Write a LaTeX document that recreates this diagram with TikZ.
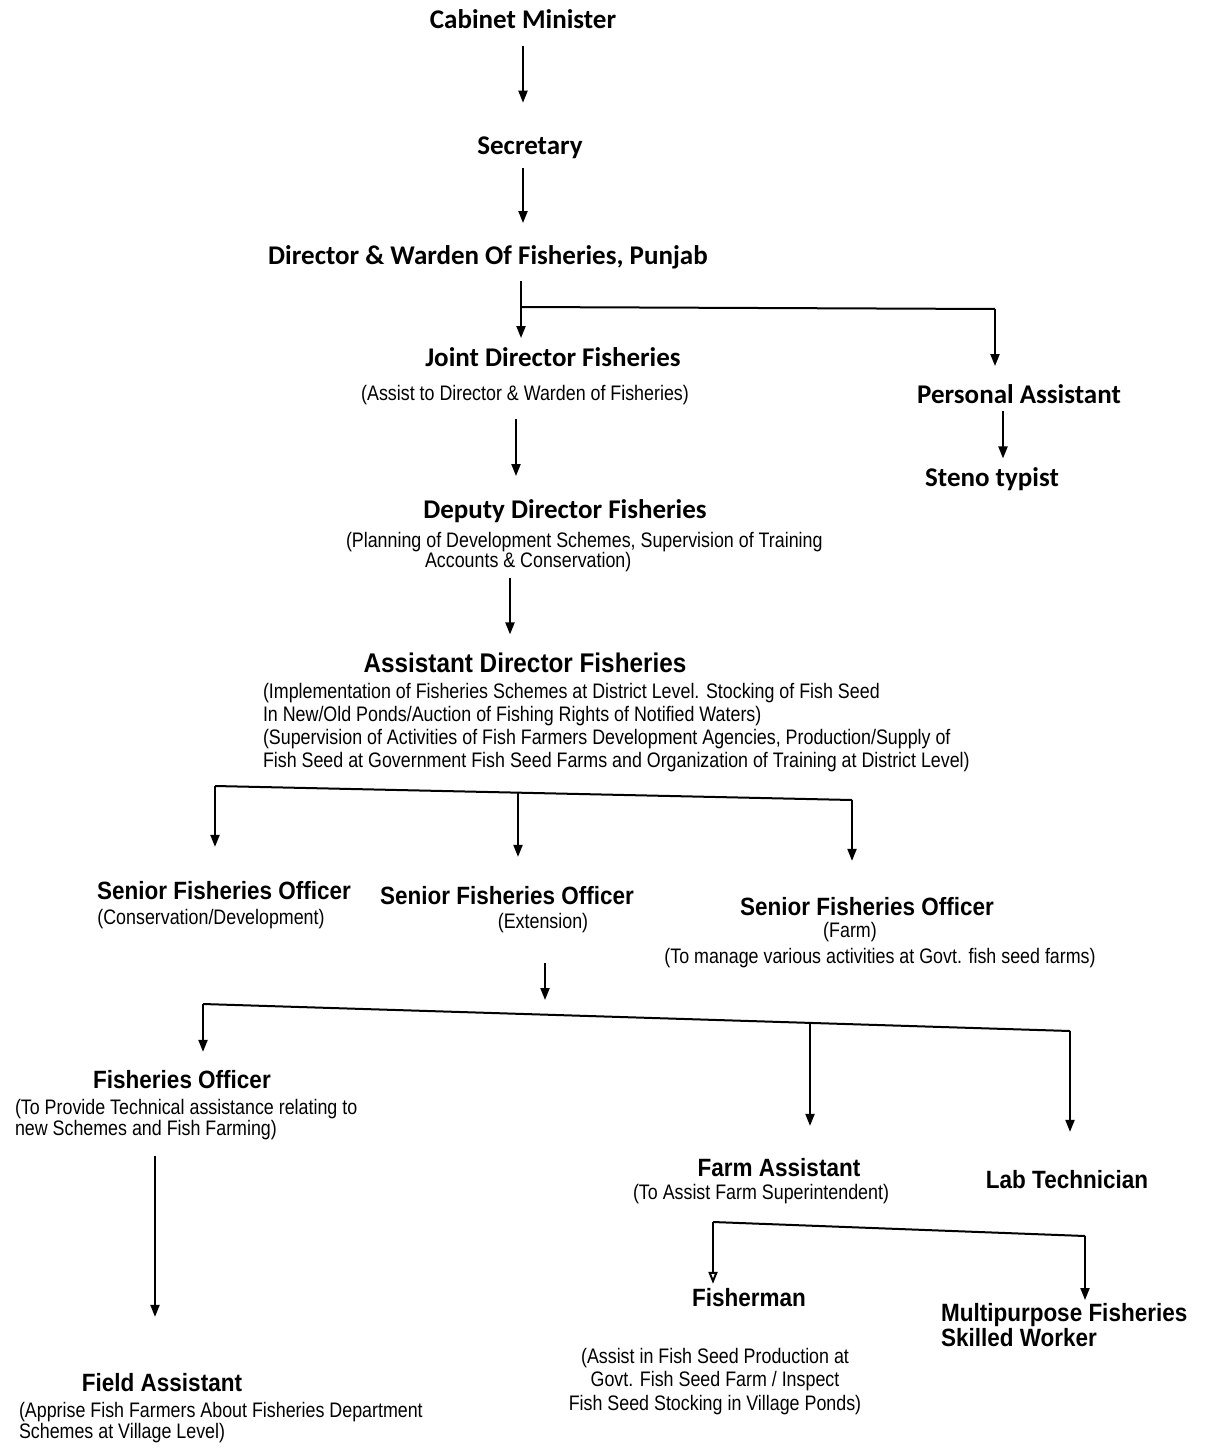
\documentclass[tikz,border=0pt]{standalone}
\usepackage{fontspec}
\usetikzlibrary{arrows.meta}
\newfontfamily\calibfont{Carlito}
\newfontfamily\titlefont[FakeStretch=0.9]{Liberation Sans}
\newfontfamily\descfont[FakeStretch=0.85]{Liberation Sans}

\begin{document}
\begin{tikzpicture}[x=0.5pt,y=-0.5pt,line width=1pt,
    >={Triangle[length=6pt,width=4.5pt]},
    head/.style={font=\calibfont\bfseries\fontsize{13.5}{15}\selectfont,inner sep=0pt,anchor=base},
    post/.style={font=\titlefont\bfseries\fontsize{12.5}{#1}\selectfont,inner sep=0pt,anchor=base},
    post/.default=15,
    desc/.style={font=\descfont\fontsize{10.5}{#1}\selectfont,inner sep=0pt,anchor=base},
    desc/.default=12]
    \useasboundingbox (0,0) rectangle (1207,1455);
    \node[head] (cm) at (523,29) {Cabinet Minister};
    \node[head] (sec) at (530,155) {Secretary};
    \node[head] (dir) at (488,264) {Director \& Warden Of Fisheries, Punjab};
    \node[head] (jdf) at (553,366) {Joint Director Fisheries};
    \node[desc] (jdfsub) at (525,400) {(Assist to Director \& Warden of Fisheries)};
    \node[head] (pa) at (1019,403) {Personal Assistant};
    \node[head] (steno) at (992,486) {Steno typist};
    \node[head] (ddf) at (565,518) {Deputy Director Fisheries};
    \node[desc=10,anchor=north west,align=left] (ddfsub) at (345,531)
        {(Planning of Development Schemes, Supervision of Training\\\hspace*{39.5pt}Accounts \& Conservation)};
    \node[post,font=\titlefont\bfseries\fontsize{13.5}{16}\selectfont] (adf) at (525,672) {Assistant Director Fisheries};
    \node[desc=11.5,anchor=north west,align=left] (adfsub) at (262,682)
        {(Implementation of Fisheries Schemes at District Level. Stocking of Fish Seed\\
         In New/Old Ponds/Auction of Fishing Rights of Notified Waters)\\
         (Supervision of Activities of Fish Farmers Development Agencies, Production/Supply of\\
         Fish Seed at Government Fish Seed Farms and Organization of Training at District Level)};
    \node[post] (sfo1) at (224,899) {Senior Fisheries Officer};
    \node[desc] (sfo1sub) at (211,924) {(Conservation/Development)};
    \node[post] (sfo2) at (507,904) {Senior Fisheries Officer};
    \node[desc] (sfo2sub) at (543,928) {(Extension)};
    \node[post] (sfo3) at (867,915) {Senior Fisheries Officer};
    \node[desc=13,anchor=north,align=center] (sfo3sub) at (880,921)
        {(Farm)\kern30pt\\(To manage various activities at Govt. fish seed farms)};
    \node[post] (fo) at (182,1088) {Fisheries Officer};
    \node[desc=10.5,anchor=north west,align=left] (fosub) at (14,1098)
        {(To Provide Technical assistance relating to\\new Schemes and Fish Farming)};
    \node[post] (fld) at (162,1391) {Field Assistant};
    \node[desc=9.5,anchor=north west,align=left] (fldsub) at (18,1401)
        {(Apprise Fish Farmers About Fisheries Department\\Schemes at Village Level)};
    \node[post] (fa) at (779,1176) {Farm Assistant};
    \node[desc] (fasub) at (761,1199) {(To Assist Farm Superintendent)};
    \node[post] (lt) at (1067,1188) {Lab Technician};
    \node[post] (fm) at (749,1306) {Fisherman};
    \node[post=12.5,anchor=north west,align=left] (mp) at (940,1302) {Multipurpose Fisheries\\Skilled Worker};
    \node[desc=11.75,anchor=north,align=center] (fmsub) at (715,1347)
        {(Assist in Fish Seed Production at\\Govt. Fish Seed Farm / Inspect\\Fish Seed Stocking in Village Ponds)};

    \coordinate (j1) at (521,307);
    \coordinate (j1r) at (995,309);
    \coordinate (j2l) at (215,786);
    \coordinate (j2m) at (518,793);
    \coordinate (j2r) at (852,800);
    \coordinate (j3l) at (203,1004);
    \coordinate (j3m) at (810,1023);
    \coordinate (j3r) at (1070,1031);
    \coordinate (j4l) at (713,1222);
    \coordinate (j4r) at (1085,1236);

    \draw[->,shorten <=8pt,shorten >=16.8pt] (cm.south) -- (cm.south |- sec.north);
    \draw[->,shorten <=4pt,shorten >=10.5pt] ([xshift=-3.5pt]sec.south) -- ([xshift=-3.5pt]sec.south |- dir.north);
    \draw[->,shorten <=5.5pt,shorten >=4pt] (j1 |- dir.south) -- (j1 |- jdf.north);
    \draw (j1) -- (j1r);
    \draw[->,shorten >=8.5pt] (j1r) -- (j1r |- pa.north);
    \draw[->,shorten <=7pt,shorten >=11pt] ([xshift=-4.5pt]jdfsub.south) -- ([xshift=-4.5pt]jdfsub.south |- ddf.north);
    \draw[->,shorten <=3.5pt,shorten >=3.8pt] ([xshift=-8pt]pa.south) -- ([xshift=-8pt]pa.south |- steno.north);
    \draw[->,shorten <=2.5pt,shorten >=8.5pt] ([xshift=-7.5pt]adf.north |- ddfsub.south) -- ([xshift=-7.5pt]adf.north);
    \draw (j2l) -- (j2r);
    \foreach \j/\n/\s in {j2l/sfo1/16.5, j2m/sfo2/14, j2r/sfo3/17.5}
        \draw[->,shorten >=\s pt] (\j) -- (\j |- \n.north);
    \draw[->,shorten <=15pt,shorten >=2pt] ([xshift=1pt]sfo2sub.south) -- ([xshift=1pt]sfo2sub.south |- j3l);
    \draw (j3l) -- (j3r);
    \foreach \j/\n/\s in {j3l/fo/8.5, j3m/fa/15.5, j3r/lt/18.5}
        \draw[->,shorten >=\s pt] (\j) -- (\j |- \n.north);
    \draw[->,shorten <=7.5pt,shorten >=27.5pt] ([xshift=-3.5pt]fld.north |- fosub.south) -- ([xshift=-3.5pt]fld.north);
    \draw (j4l) -- (j4r);
    \draw[-{Triangle[open,length=6pt,width=4.5pt]},shorten >=1.5pt] (j4l) -- (j4l |- fm.north);
    \draw[->,shorten >=1pt] (j4r) -- (j4r |- mp.north);
\end{tikzpicture}
\end{document}
